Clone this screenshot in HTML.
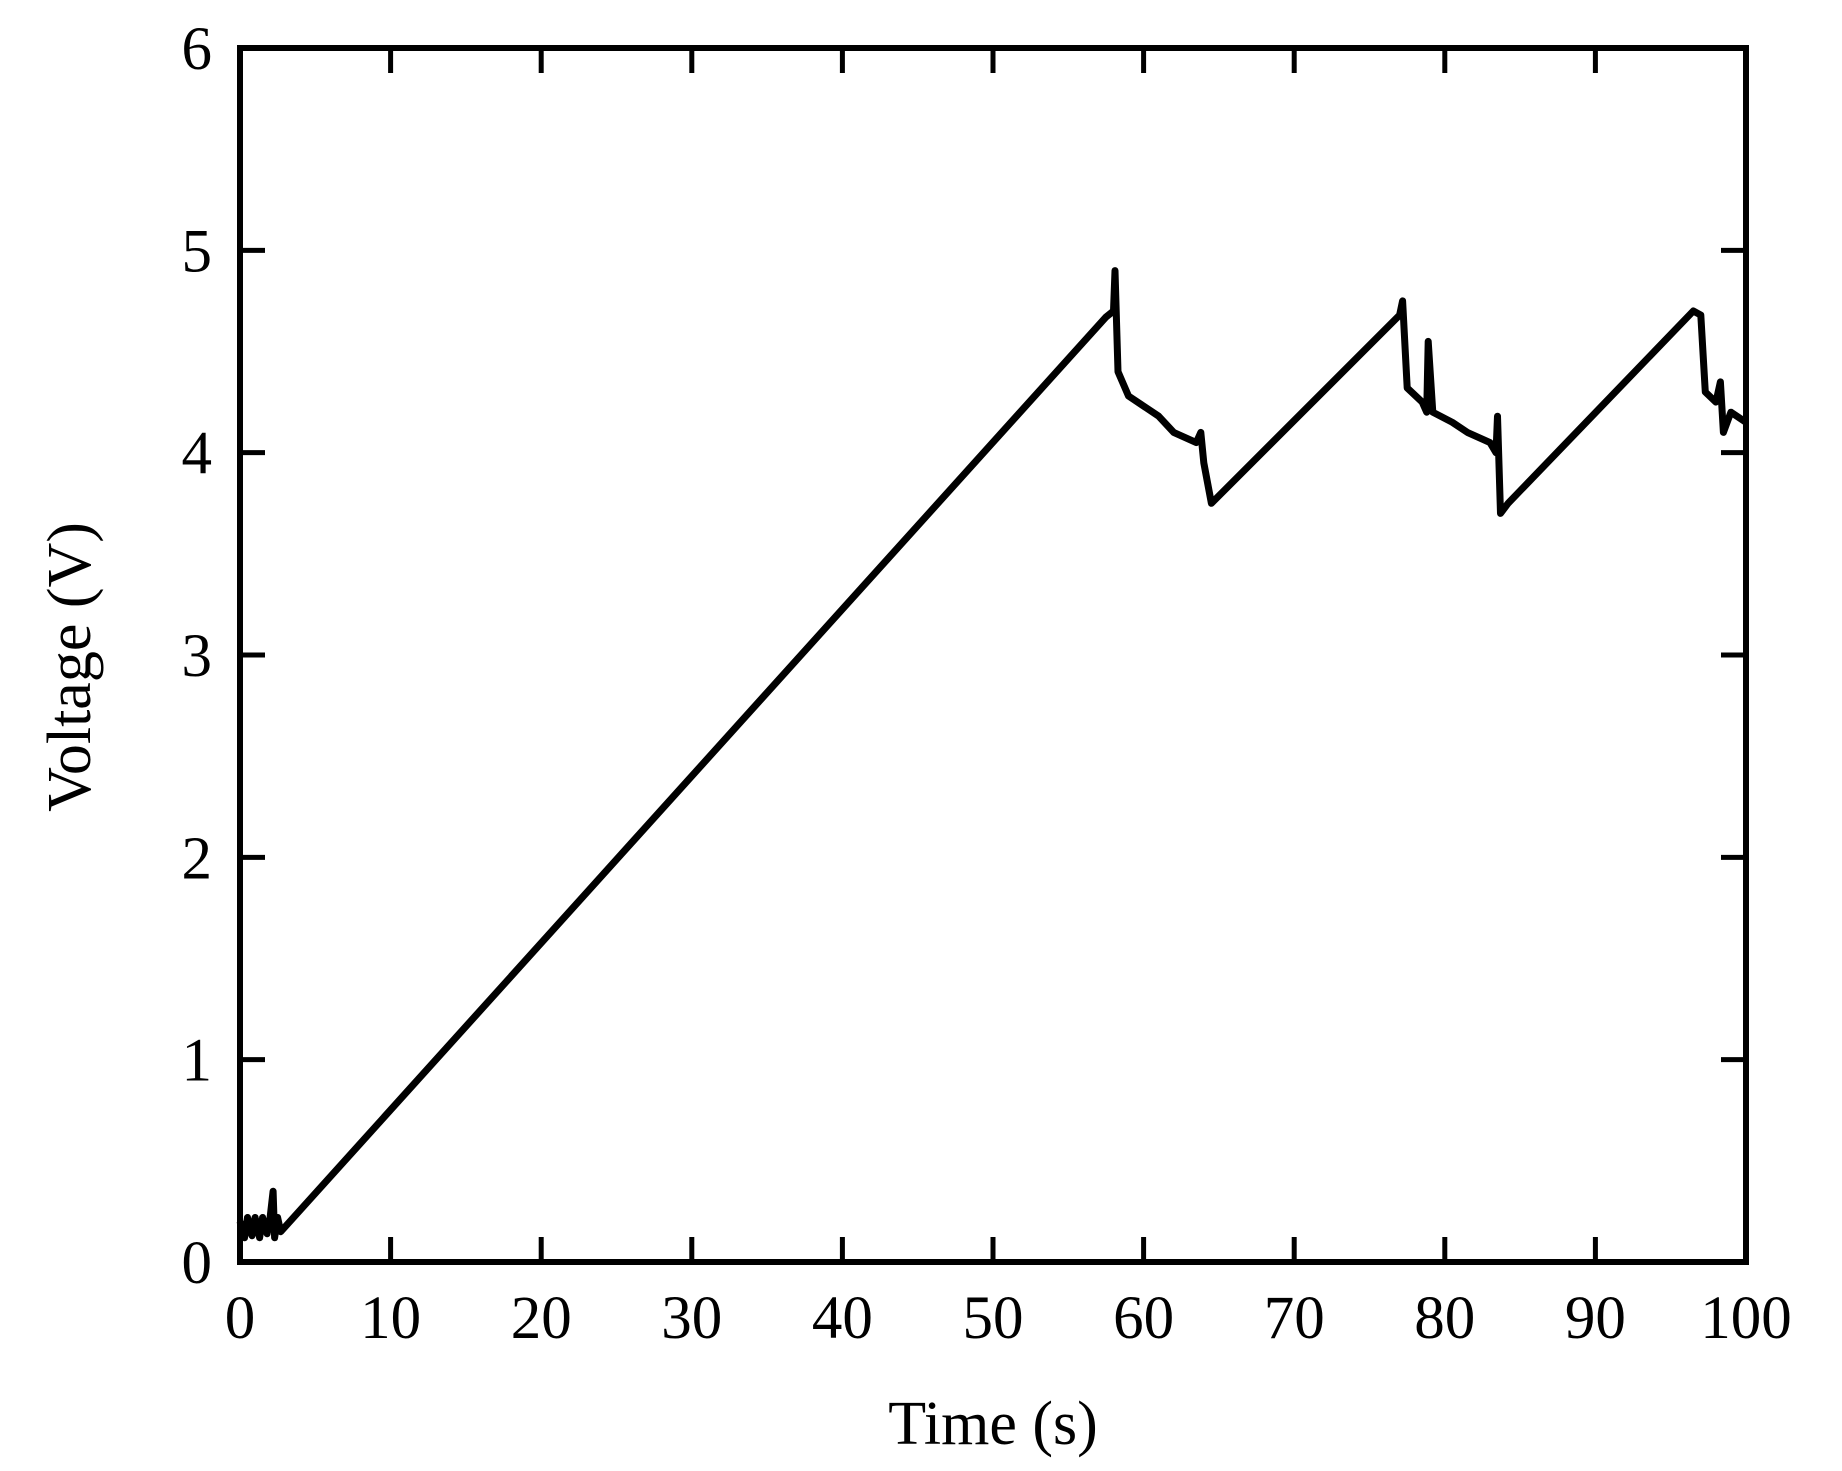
<!DOCTYPE html>
<html><head><meta charset="utf-8"><style>
html,body{margin:0;padding:0;background:#fff}
svg{display:block}
text{font-family:"Liberation Serif",serif;fill:#000}
</style></head><body>
<svg id="chart" width="1842" height="1471" viewBox="0 0 1842 1471" xmlns="http://www.w3.org/2000/svg">
<g id="ticks"></g>
<path id="series" fill="none" stroke="#000" stroke-width="7" stroke-linejoin="round"></path>
<rect x="240" y="48" width="1506" height="1214" fill="none" stroke="#000" stroke-width="6"></rect>
<text x="993" y="1444" font-size="62" text-anchor="middle">Time (s)</text>
<text transform="translate(90,667) rotate(-90)" font-size="62" text-anchor="middle">Voltage (V)</text>
</svg>
<script>
const xTicks=[0,10,20,30,40,50,60,70,80,90,100];
const yTicks=[0,1,2,3,4,5,6];
const times=[0,0.3,0.5,0.8,1.0,1.3,1.5,1.8,2.0,2.2,2.3,2.5,2.7,57.5,58.0,58.1,58.3,59,61,62,63.5,63.8,64.0,64.5,77.0,77.2,77.5,78.5,78.8,78.9,79.2,80.5,81.5,83.0,83.4,83.5,83.7,84.2,96.5,97.0,97.3,98.0,98.3,98.5,99,100];
const volts=[0.2,0.12,0.22,0.13,0.22,0.12,0.22,0.14,0.22,0.35,0.12,0.22,0.15,4.67,4.7,4.9,4.4,4.28,4.18,4.1,4.05,4.1,3.95,3.75,4.68,4.75,4.32,4.25,4.2,4.55,4.2,4.15,4.1,4.05,4.0,4.18,3.7,3.75,4.7,4.68,4.3,4.25,4.35,4.1,4.2,4.15];
const X0=240,X1=1746,Y0=1262,Y1=48;
const sx=v=>X0+(v-0)/(100-0)*(X1-X0);
const sy=v=>Y0-(v-0)/(6-0)*(Y0-Y1);
const NS="http://www.w3.org/2000/svg";
const g=document.getElementById('ticks');
function mk(tag,attrs){const e=document.createElementNS(NS,tag);for(const k in attrs)e.setAttribute(k,attrs[k]);return e;}
xTicks.forEach(t=>{
 const x=sx(t);
 const l1=mk('line',{x1:x,y1:Y0,x2:x,y2:Y0-25,stroke:'#000','stroke-width':5});
 
 
 g.appendChild(l1);
 const l2=mk('line',{x1:x,y1:Y1,x2:x,y2:Y1+25,stroke:'#000','stroke-width':5});
 
 
 g.appendChild(l2);
 const tx=mk('text',{x:x,y:1338,'font-size':61,'text-anchor':'middle'});
 tx.textContent=t;
 
 
 g.appendChild(tx);
});
yTicks.forEach(t=>{
 const y=sy(t);
 const l1=mk('line',{x1:X0,y1:y,x2:X0+25,y2:y,stroke:'#000','stroke-width':5});
 
 
 g.appendChild(l1);
 const l2=mk('line',{x1:X1,y1:y,x2:X1-25,y2:y,stroke:'#000','stroke-width':5});
 
 
 g.appendChild(l2);
 const tx=mk('text',{x:212,y:y+21,'font-size':61,'text-anchor':'end'});
 tx.textContent=t;
 
 
 g.appendChild(tx);
});
let d='';
times.forEach((t,i)=>{d+=(i?'L':'M')+sx(t).toFixed(1)+' '+sy(volts[i]).toFixed(1);});
document.getElementById('series').setAttribute('d',d);
</script>
</body></html>
